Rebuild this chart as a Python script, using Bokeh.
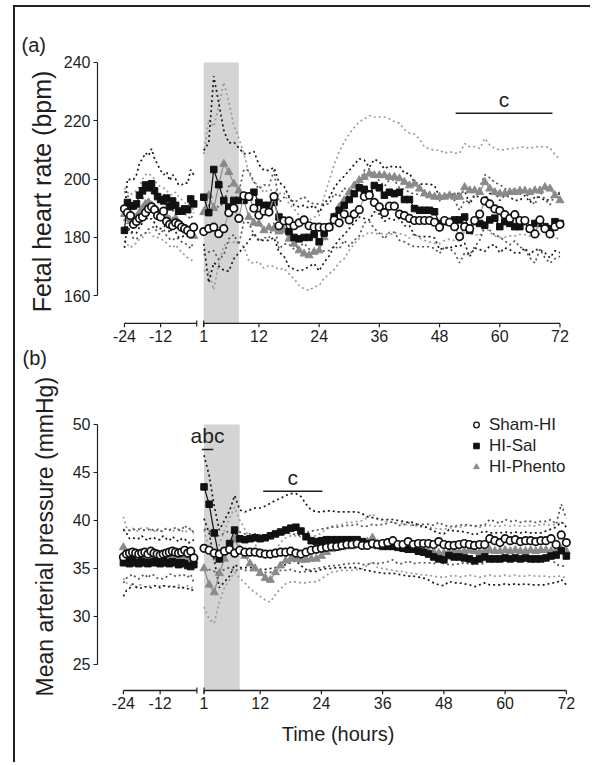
from bokeh.plotting import figure
from bokeh.layouts import column
from bokeh.models import Range1d, Label, Legend, LegendItem, FixedTicker, Title, InlineStyleSheet
from bokeh.embed import file_html
from bokeh.resources import INLINE

FONT = "Liberation Sans"
INK = "#1e1e1e"
GREY = "#8a8a8a"

# ---------------- time axis ----------------
hours_pre = list(range(-24, 0))
hours_post = list(range(1, 73))
tick_hours = [-24, -12, 1, 12, 24, 36, 48, 60, 72]
tick_labels = ["-24", "-12", "1", "12", "24", "36", "48", "60", "72"]
axis_pieces = [(-24, 0), (1, 72)]
break_hours = [0, 1]
occlusion = (1, 8)

groups = ["Sham-HI", "HI-Sal", "HI-Phento"]

# ---------------- panel (a): fetal heart rate (bpm) ----------------
fhr_ticks = [160, 180, 200, 220, 240]
sham_a_pre = [189.8, 188.5, 187.5, 184.5, 185.5, 186.5, 187.0, 188.5, 189.8, 190.5, 189.5, 187.5,
              187.0, 189.0, 185.5, 184.5, 184.0, 185.0, 184.5, 183.5, 183.0, 182.4, 181.2, 183.5]
sal_a_pre = [182.4, 192.0, 190.8, 190.8, 191.5, 194.5, 196.0, 198.0, 197.0, 198.4, 196.0, 194.0,
             193.0, 192.5, 193.5, 190.5, 192.5, 191.0, 189.0, 189.0, 189.8, 189.5, 193.2, 191.5]
phento_a_pre = [188.0, 186.5, 185.5, 186.5, 187.0, 188.5, 190.0, 191.5, 192.0, 191.0, 190.0, 189.0,
                188.5, 188.0, 187.0, 186.0, 185.5, 186.5, 185.0, 184.0, 183.0, 182.0, 181.5, 180.5]
sham_a_post = [182.0, 183.0, 183.5, 181.3, 183.0, 188.5, 190.0, 186.5, 194.3, 194.0,
               190.0, 187.6, 189.0, 188.7, 194.0, 184.0, 185.7, 185.7, 184.0, 185.0,
               186.0, 184.0, 183.5, 183.5, 183.4, 183.5, 186.0, 185.0, 188.0, 186.0,
               188.0, 189.5, 194.0, 194.5, 192.0, 190.5, 188.5, 190.7, 190.7, 188.0,
               187.5, 186.5, 185.8, 185.8, 185.8, 185.8, 185.2, 183.5, 185.8, 185.2,
               183.7, 180.3, 183.7, 183.0, 185.8, 188.0, 192.5, 191.5, 189.8, 189.2,
               187.8, 186.5, 187.8, 185.8, 185.8, 183.0, 181.2, 186.0, 183.0, 181.2, 183.7, 184.5]
sal_a_post = [193.8, 188.5, 203.3, 198.1, 192.7, 190.4, 192.7, 192.7, 192.7, 193.8,
              195.5, 192.0, 191.0, 191.0, 192.0, 187.0, 185.5, 182.0, 180.0, 179.5,
              180.0, 180.0, 181.0, 178.5, 181.5, 183.6, 187.0, 189.3, 191.0, 193.0,
              195.0, 197.0, 196.5, 195.0, 197.8, 197.0, 194.5, 195.5, 195.0, 195.5,
              193.0, 193.0, 189.9, 189.3, 189.3, 189.3, 188.8, 184.8, 185.4, 185.4,
              186.0, 186.0, 187.0, 182.4, 185.4, 184.8, 184.2, 186.0, 186.6, 183.7,
              185.4, 184.8, 183.7, 183.7, 185.4, 183.0, 184.8, 184.8, 183.7, 183.0, 185.4, 184.8]
phento_a_post = [188.6, 194.4, 190.0, 198.0, 205.2, 202.4, 198.4, 196.0, 192.7, 187.0,
                 185.0, 184.7, 182.4, 183.4, 183.0, 182.0, 182.4, 179.5, 177.8, 175.5,
                 174.4, 173.8, 175.0, 175.5, 180.0, 183.5, 187.0, 190.4, 192.7, 195.5,
                 197.8, 199.6, 200.7, 201.8, 201.3, 201.3, 201.3, 200.7, 200.7, 200.2,
                 199.0, 197.8, 198.4, 196.7, 195.0, 194.4, 193.9, 193.9, 193.9, 194.4,
                 193.9, 193.9, 197.2, 196.1, 196.1, 195.5, 199.0, 196.7, 195.5, 195.0,
                 195.0, 195.5, 195.5, 196.0, 196.0, 195.5, 196.1, 196.1, 197.2, 196.7, 194.4, 192.7]
sham_a_sem_pre = [6, 6, 5, 5, 6, 6, 6, 7, 7, 7, 6, 6, 6, 6, 5, 5, 5, 5, 5, 5, 5, 5, 5, 5]
sal_a_sem_pre = [6, 8, 9, 9, 10, 11, 11, 11, 11, 12, 11, 11, 10, 9, 9, 9, 9, 9, 9, 9, 9, 9, 10, 10]
phento_a_sem_pre = [9, 9, 9, 9, 9, 9, 10, 10, 10, 10, 10, 9, 9, 9, 9, 9, 9, 9, 9, 9, 9, 9, 9, 9]
sham_a_sem_post = [8, 8, 8, 9, 9, 9, 9, 9, 9, 9,
                   9, 9, 9, 9, 9, 8, 8, 8, 8, 8,
                   8, 8, 8, 8, 8, 8, 9, 9, 9, 9,
                   9, 9, 9, 9, 9, 9, 9, 9, 9, 9,
                   9, 9, 9, 9, 9, 9, 9, 9, 9, 9,
                   9, 9, 9, 9, 9, 9, 9, 9, 9, 9,
                   9, 9, 9, 9, 10, 10, 10, 10, 10, 10, 11, 11]
sal_a_sem_post = [16, 24, 32, 28, 24, 22, 20, 18, 16, 15,
                  14, 13, 12, 12, 12, 12, 12, 12, 11, 11,
                  11, 10, 10, 10, 10, 10, 10, 10, 10, 10,
                  10, 10, 10, 9, 9, 9, 9, 9, 9, 9,
                  9, 9, 9, 9, 9, 9, 9, 9, 9, 9,
                  9, 9, 9, 9, 9, 9, 9, 9, 9, 9,
                  9, 9, 9, 9, 9, 9, 9, 9, 9, 10, 10, 10]
phento_a_sem_post = [20, 26, 28, 27, 28, 24, 20, 18, 16, 15,
                     14, 13, 13, 13, 13, 13, 13, 12, 12, 12,
                     12, 12, 12, 12, 14, 16, 18, 19, 20, 20,
                     20, 20, 20, 20, 20, 20, 20, 20, 19, 19,
                     18, 18, 17, 17, 16, 16, 16, 16, 15, 15,
                     15, 15, 15, 15, 15, 15, 15, 15, 15, 15,
                     15, 15, 15, 15, 15, 15, 15, 15, 14, 14, 14, 14]

# ---------------- panel (b): mean arterial pressure (mmHg) ----------------
map_ticks = [25, 30, 35, 40, 45, 50]
sham_b_pre = [36.2, 36.5, 36.6, 36.7, 36.6, 36.5, 36.6, 36.7, 36.5, 36.8, 36.6, 36.5,
              36.4, 36.5, 36.6, 36.7, 36.8, 36.7, 36.6, 36.7, 36.9, 36.6, 36.8, 36.1]
sal_b_pre = [35.6, 35.7, 35.5, 35.8, 35.6, 35.5, 35.7, 35.6, 35.5, 35.6, 35.7, 35.6,
             35.5, 35.8, 35.6, 35.5, 35.7, 35.6, 35.4, 35.6, 35.5, 35.3, 35.2, 35.4]
phento_b_pre = [37.2, 36.4, 36.1, 36.2, 36.0, 36.1, 36.3, 36.0, 36.2, 36.1, 36.0, 36.2,
                36.1, 36.0, 36.2, 36.1, 36.0, 36.1, 36.2, 36.0, 35.9, 36.1, 36.0, 35.8]
sham_b_post = [37.1, 36.9, 36.6, 36.5, 36.8, 37.0, 36.6, 36.9, 36.7, 36.7,
               36.7, 36.6, 36.5, 36.5, 36.6, 36.7, 36.7, 36.8, 36.6, 36.5,
               36.7, 36.9, 37.0, 37.1, 37.2, 37.3, 37.3, 37.4, 37.5, 37.5,
               37.6, 37.4, 37.4, 37.6, 37.5, 37.6, 37.7, 37.9, 37.5, 37.5,
               37.8, 37.5, 37.6, 37.6, 37.6, 37.5, 37.8, 37.5, 37.4, 37.4,
               37.5, 37.6, 37.5, 37.4, 37.5, 37.5, 38.1, 37.9, 37.7, 38.1,
               37.9, 38.0, 37.8, 37.9, 37.9, 37.8, 37.9, 37.9, 38.1, 37.5, 38.5, 37.7]
sal_b_post = [43.5, 41.7, 38.7, 36.0, 36.8, 37.6, 39.0, 38.1, 38.0, 38.1,
              38.2, 38.1, 38.2, 38.4, 38.6, 38.8, 39.0, 39.2, 39.3, 38.9,
              38.3, 37.9, 37.8, 37.9, 38.0, 38.0, 38.0, 38.0, 38.0, 38.0,
              38.0, 37.8, 37.6, 37.5, 37.4, 37.3, 37.3, 37.3, 37.2, 37.1,
              37.0, 37.0, 36.8, 36.7, 36.5, 36.2, 36.0, 35.9, 36.35, 36.2,
              36.2, 36.1, 36.0, 35.8, 36.0, 36.2, 36.0, 36.0, 36.0, 36.1,
              36.0, 36.1, 36.0, 36.1, 36.0, 36.0, 36.0, 36.1, 36.3, 36.4, 36.85, 36.3]
phento_b_post = [35.0, 33.3, 32.5, 34.5, 36.0, 37.0, 38.0, 37.0, 36.3, 35.5,
                 35.0, 34.5, 34.0, 33.8, 34.6, 35.3, 35.8, 36.0, 36.0, 35.9,
                 35.9, 36.0, 36.0, 36.3, 36.7, 37.0, 37.1, 37.2, 37.3, 37.3,
                 37.4, 37.5, 37.8, 38.2, 37.6, 37.5, 37.4, 37.3, 37.2, 37.2,
                 37.0, 37.0, 36.9, 36.8, 36.8, 36.7, 36.6, 36.6, 36.7, 36.8,
                 36.7, 36.8, 36.9, 36.8, 36.7, 36.8, 36.9, 36.8, 36.8, 36.9,
                 36.8, 36.9, 36.8, 36.8, 36.9, 36.8, 36.9, 36.9, 36.8, 36.9, 37.0, 36.8]
sham_b_sem_pre = [2.7, 2.5, 2.4, 2.3, 2.5, 2.6, 2.4, 2.3, 2.5, 2.4, 2.3, 2.5,
                  2.4, 2.6, 2.5, 2.3, 2.4, 2.5, 2.4, 2.3, 2.6, 2.5, 2.4, 2.6]
sal_b_sem_pre = [3.5, 3.0, 2.6, 2.4, 2.5, 2.6, 2.7, 2.5, 2.4, 2.6, 2.5, 2.4,
                 2.5, 2.6, 2.5, 2.4, 2.6, 2.5, 2.4, 2.5, 2.6, 2.4, 2.5, 2.6]
phento_b_sem_pre = [3.2, 2.9, 2.8, 3.0, 2.9, 2.8, 3.0, 2.9, 3.1, 2.9, 2.8, 3.0,
                    2.9, 2.8, 3.0, 2.9, 2.8, 3.0, 2.9, 3.0, 2.8, 2.9, 3.0, 2.8]
sham_b_sem_post = [2.0, 2.0, 1.9, 1.9, 1.9, 1.9, 1.9, 1.9, 1.9, 1.9,
                   1.9, 1.9, 1.9, 1.9, 1.9, 1.9, 1.9, 1.9, 1.9, 1.9,
                   2.0, 2.0, 2.0, 2.0, 2.0, 2.0, 2.0, 2.0, 2.0, 2.0,
                   2.0, 2.0, 2.0, 2.0, 2.0, 2.0, 2.0, 2.0, 2.0, 2.0,
                   2.0, 2.0, 2.0, 2.0, 2.0, 2.0, 2.0, 2.0, 2.0, 2.0,
                   2.0, 2.0, 2.0, 2.0, 2.0, 2.0, 2.0, 2.0, 2.0, 2.0,
                   2.0, 2.0, 2.0, 2.0, 2.0, 2.0, 2.0, 2.0, 2.0, 2.1, 3.2, 2.5]
sal_b_sem_post = [3.3, 3.0, 2.8, 3.0, 3.2, 3.4, 3.6, 3.0, 2.9, 3.0,
                  3.1, 3.2, 3.3, 3.4, 3.5, 3.5, 3.6, 3.6, 3.5, 3.6,
                  3.4, 3.2, 3.1, 3.0, 3.0, 3.0, 2.9, 2.9, 2.9, 2.9,
                  2.9, 2.9, 2.8, 2.8, 2.8, 2.8, 2.8, 2.8, 2.8, 2.8,
                  2.8, 2.8, 2.7, 2.7, 2.7, 2.7, 2.7, 2.7, 2.7, 2.7,
                  2.7, 2.7, 2.7, 2.7, 2.7, 2.7, 2.7, 2.7, 2.7, 2.7,
                  2.7, 2.7, 2.7, 2.7, 2.7, 2.7, 2.7, 2.8, 2.8, 2.9, 3.0, 3.0]
phento_b_sem_post = [4.0, 3.6, 3.2, 3.0, 3.0, 3.2, 3.4, 3.0, 2.8, 2.6,
                     2.5, 2.4, 2.3, 2.3, 2.3, 2.4, 2.4, 2.4, 2.4, 2.4,
                     2.4, 2.4, 2.4, 2.4, 2.4, 2.4, 2.4, 2.4, 2.5, 2.5,
                     2.5, 2.5, 2.5, 2.5, 2.5, 2.5, 2.5, 2.5, 2.5, 2.5,
                     2.5, 2.5, 2.5, 2.5, 2.5, 2.5, 2.5, 2.5, 2.5, 2.5,
                     2.6, 2.6, 2.6, 2.6, 2.6, 2.6, 2.6, 2.6, 2.6, 2.6,
                     2.6, 2.6, 2.6, 2.6, 2.6, 2.6, 2.7, 2.7, 2.7, 2.7, 2.8, 2.8]

# significance bars: (start hour, end hour, level, text)
sig_a = [(51.2, 70.5, 222.6, "c")]
sig_b = [(0.56, 2.8, 47.4, "abc"), (12.6, 24.2, 43.05, "c")]

for arr in (sham_a_pre, sal_a_pre, phento_a_pre, sham_a_sem_pre, sal_a_sem_pre, phento_a_sem_pre,
            sham_b_pre, sal_b_pre, phento_b_pre, sham_b_sem_pre, sal_b_sem_pre, phento_b_sem_pre):
    assert len(arr) == len(hours_pre)
for arr in (sham_a_post, sal_a_post, phento_a_post, sham_a_sem_post, sal_a_sem_post, phento_a_sem_post,
            sham_b_post, sal_b_post, phento_b_post, sham_b_sem_post, sal_b_sem_post, phento_b_sem_post):
    assert len(arr) == len(hours_post)


def u_of(h):
    """Broken time axis: compressed pre-insult block, then post-insult hours."""
    if h <= 0:
        return 3 * (h + 24)
    return 79 + 5 * (h - 1)


STYLE = {
    "Sham-HI": dict(marker="circle", size=7.5, fill="white", mline="#111111", lw=1.7,
                    conn="#9a9a9a", band="#555555"),
    "HI-Sal": dict(marker="square", size=6.5, fill="#111111", mline="#111111", lw=1.0,
                   conn="#111111", band="#1a1a1a"),
    "HI-Phento": dict(marker="triangle", size=8, fill=GREY, mline=GREY, lw=1.0,
                      conn=GREY, band="#9c9c9c"),
}


def make_panel(width, height, xr, yr, borders, y_ticks, y_bounds, series, axis_level,
               px_per_unit, shade_top, sigs, ytitle, ytitle_size, ytitle_standoff, xtitle=None):
    left, right, top, bottom = borders
    p = figure(width=width, height=height, x_range=Range1d(*xr), y_range=Range1d(*yr),
               output_backend="svg", toolbar_location=None,
               min_border_left=left, min_border_right=right,
               min_border_top=top, min_border_bottom=bottom)
    p.grid.visible = False
    p.outline_line_color = None
    p.background_fill_color = "white"
    p.border_fill_color = "white"
    p.title.text_font = FONT
    p.title.text_font_style = "normal"
    p.title.text_color = INK

    # occlusion shading
    p.quad(left=[u_of(occlusion[0])], right=[u_of(occlusion[1])], bottom=[axis_level],
           top=[shade_top], fill_color="#d4d4d4", line_color=None)

    # SEM dotted bands
    for name in ["HI-Phento", "HI-Sal", "Sham-HI"]:
        st = STYLE[name]
        d = series[name]
        for hrs, mean, sem in ((hours_pre, d[0], d[2]), (hours_post, d[1], d[3])):
            xs = [u_of(h) for h in hrs]
            up = [m + s for m, s in zip(mean, sem)]
            lo = [m - s for m, s in zip(mean, sem)]
            for ys in (up, lo):
                p.line(xs, ys, line_color=st["band"], line_width=1.7, line_dash="2 3")

    # means
    for name in ["HI-Phento", "HI-Sal", "Sham-HI"]:
        st = STYLE[name]
        d = series[name]
        for hrs, mean in ((hours_pre, d[0]), (hours_post, d[1])):
            xs = [u_of(h) for h in hrs]
            p.line(xs, mean, line_color=st["conn"], line_width=1.2)
            p.scatter(xs, mean, marker=st["marker"], size=st["size"], fill_color=st["fill"],
                      line_color=st["mline"], line_width=st["lw"])

    # hand-drawn broken x axis line, ticks and break marks
    tick_len = 4.0 / px_per_unit
    brk = 3.0 / px_per_unit
    x0 = [u_of(a) for a, b in axis_pieces]
    x1 = [u_of(b) for a, b in axis_pieces]
    p.segment(x0=x0, y0=[axis_level] * len(x0), x1=x1, y1=[axis_level] * len(x1),
              line_color=INK, line_width=1.3)
    tx = [u_of(t) for t in tick_hours]
    p.segment(x0=tx, y0=[axis_level] * len(tx), x1=tx, y1=[axis_level - tick_len] * len(tx),
              line_color=INK, line_width=1.2)
    bx = [u_of(b) for b in break_hours]
    p.segment(x0=bx, y0=[axis_level + brk] * len(bx), x1=bx, y1=[axis_level - brk] * len(bx),
              line_color=INK, line_width=1.2)

    # significance bars
    for h0, h1, lvl, txt in sigs:
        p.segment(x0=[u_of(h0)], y0=[lvl], x1=[u_of(h1)], y1=[lvl], line_color=INK, line_width=1.6)
        p.add_layout(Label(x=(u_of(h0) + u_of(h1)) / 2, y=lvl + 2.2 / px_per_unit, text=txt,
                           text_font=FONT, text_font_size="21px", text_color=INK,
                           text_align="center", text_baseline="bottom"))

    # axes
    xa = p.xaxis[0]
    xa.ticker = FixedTicker(ticks=[u_of(t) for t in tick_hours])
    xa.major_label_overrides = {u_of(t): lab for t, lab in zip(tick_hours, tick_labels)}
    xa.axis_line_color = None
    xa.major_tick_in = 0
    xa.major_tick_out = 0
    xa.minor_tick_line_color = None
    xa.major_label_standoff = 2
    xa.major_label_text_font = FONT
    xa.major_label_text_font_size = "16px"
    xa.major_label_text_color = INK
    if xtitle:
        xa.axis_label = xtitle
        xa.axis_label_text_font = FONT
        xa.axis_label_text_font_size = "20px"
        xa.axis_label_text_font_style = "normal"
        xa.axis_label_text_color = INK
        xa.axis_label_standoff = 11

    ya = p.yaxis[0]
    ya.ticker = FixedTicker(ticks=y_ticks)
    ya.bounds = y_bounds
    ya.axis_line_color = INK
    ya.axis_line_width = 1.2
    ya.major_tick_line_color = INK
    ya.major_tick_line_width = 1.2
    ya.major_tick_in = 0
    ya.major_tick_out = 4
    ya.minor_tick_line_color = None
    ya.major_label_standoff = 3
    ya.major_label_text_font = FONT
    ya.major_label_text_font_size = "16px"
    ya.major_label_text_color = INK
    ya.axis_label = ytitle
    ya.axis_label_text_font = FONT
    ya.axis_label_text_font_size = ytitle_size
    ya.axis_label_text_font_style = "normal"
    ya.axis_label_text_color = INK
    ya.axis_label_standoff = ytitle_standoff
    return p


series_a = {
    "Sham-HI": (sham_a_pre, sham_a_post, sham_a_sem_pre, sham_a_sem_post),
    "HI-Sal": (sal_a_pre, sal_a_post, sal_a_sem_pre, sal_a_sem_post),
    "HI-Phento": (phento_a_pre, phento_a_post, phento_a_sem_pre, phento_a_sem_post),
}
series_b = {
    "Sham-HI": (sham_b_pre, sham_b_post, sham_b_sem_pre, sham_b_sem_post),
    "HI-Sal": (sal_b_pre, sal_b_post, sal_b_sem_pre, sal_b_sem_post),
    "HI-Phento": (phento_b_pre, phento_b_post, phento_b_sem_pre, phento_b_sem_post),
}

# top panel: 1 unit = 1.0056 px horizontally, 2.915 px per bpm
pa = make_panel(590, 377, (-26.85, 452.45), (149.1, 242.4), (96, 12, 55, 50),
                fhr_ticks, (160, 240), series_a, 150.5, 2.915, 240, sig_a,
                "Fetal heart rate (bpm)", "25px", 5)
pa.title.text = "(a)"
pa.title.align = "left"
pa.title.offset = -76
pa.title.standoff = 0
pa.title.text_font_size = "20px"
# panel letter (b) sits just under panel (a)'s time axis
pa.add_layout(Title(text="(b)", align="left", offset=-75, standoff=0, text_font=FONT,
                    text_font_size="20px", text_font_style="normal", text_color=INK), "below")

# bottom panel: 1 unit = 1.0249 px horizontally, 9.6 px per mmHg
# (leading no-break spaces lift the rotated title a little above the frame centre)
pb = make_panel(590, 385, (-25.37, 445.9), (21.875, 52.08), (97, 10, 27, 68),
                map_ticks, (25, 50), series_b, 22.29, 9.6, 50, sig_b,
                "\u00a0\u00a0\u00a0\u00a0Mean arterial pressure (mmHg)", "23px", 12,
                xtitle="Time (hours)")
pb.title.text = ""
pb.title.standoff = 0
pb.title.text_font_size = "1px"

# legend (marker-only items, smaller symbols than in the plot)
nan = float("nan")
items = []
for name in groups:
    st = STYLE[name]
    r = pb.scatter(x=[nan], y=[nan], marker=st["marker"], size=5.5, fill_color=st["fill"],
                   line_color=st["mline"], line_width=1.3 if name == "Sham-HI" else 1.0)
    items.append(LegendItem(label=name, renderers=[r]))
legend = Legend(items=items, location=(372, 217), orientation="vertical",
                label_text_font=FONT, label_text_font_size="17px", label_text_color=INK,
                glyph_width=14, glyph_height=21, label_height=21, label_standoff=6,
                spacing=0, padding=0, margin=0, border_line_color=None,
                background_fill_alpha=0)
pb.add_layout(legend)

frame_css = InlineStyleSheet(css=""":host::after { content: ""; position: absolute; left: 13px;
 top: 5px; right: 0; bottom: 0; border-left: 2px solid #222; border-top: 2px solid #222;
 pointer-events: none; z-index: 100; }""")
layout = column(pa, pb, stylesheets=[frame_css])

with open("out.html", "w") as f:
    f.write(file_html(layout, INLINE))
